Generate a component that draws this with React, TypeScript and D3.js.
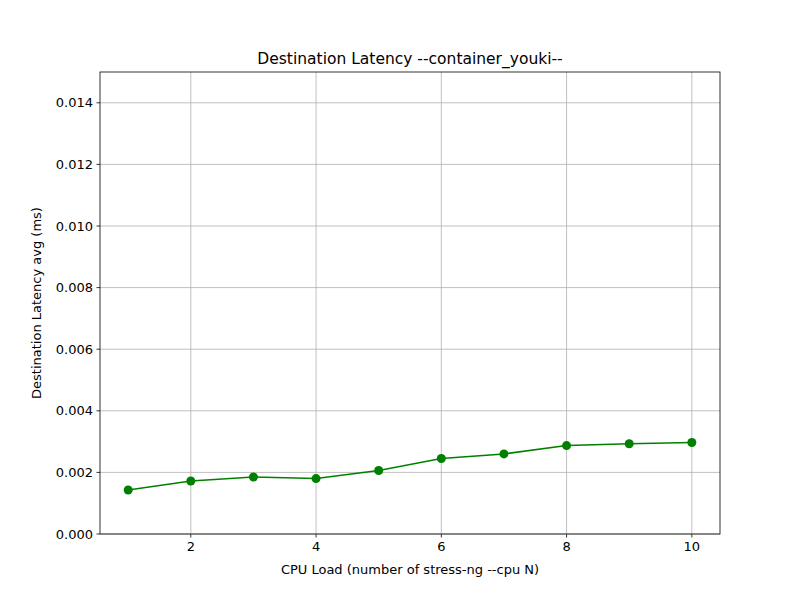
import React from 'react';
import * as d3 from 'd3';

const cpuLoad = [1, 2, 3, 4, 5, 6, 7, 8, 9, 10];
const latency = [0.00143, 0.00172, 0.00185, 0.0018, 0.00206, 0.00245, 0.0026, 0.00287, 0.00293, 0.00297];
const xTicks = [2, 4, 6, 8, 10];
const yTicks = [0, 0.002, 0.004, 0.006, 0.008, 0.01, 0.012, 0.014];

const W = 800, H = 600;
const M = { left: 100, right: 720, top: 72, bottom: 534 };

const App: React.FC = () => {
  const x = d3.scaleLinear().domain([0.55, 10.45]).range([M.left, M.right]);
  const y = d3.scaleLinear().domain([0, 0.015]).range([M.bottom, M.top]);
  const line = d3.line<number>().x((_, i) => x(cpuLoad[i])).y(d => y(d));
  const font = 'DejaVu Sans, sans-serif';

  return (
    <svg width={W} height={H} style={{ position: 'absolute', left: 0, top: 0 }} fontFamily={font}>
      <rect width={W} height={H} fill="#fff" />
      {xTicks.map(t => (
        <g key={'x' + t}>
          <line x1={x(t)} x2={x(t)} y1={M.top} y2={M.bottom} stroke="#b0b0b0" strokeWidth={0.8} />
          <line x1={x(t)} x2={x(t)} y1={M.bottom} y2={M.bottom + 3.5} stroke="#000" strokeWidth={0.8} />
          <text x={x(t)} y={M.bottom + 17} textAnchor="middle" fontSize={13}>{t}</text>
        </g>
      ))}
      {yTicks.map(t => (
        <g key={'y' + t}>
          <line x1={M.left} x2={M.right} y1={y(t)} y2={y(t)} stroke="#b0b0b0" strokeWidth={0.8} />
          <line x1={M.left - 3.5} x2={M.left} y1={y(t)} y2={y(t)} stroke="#000" strokeWidth={0.8} />
          <text x={M.left - 7} y={y(t) + 4.5} textAnchor="end" fontSize={13}>{t.toFixed(3)}</text>
        </g>
      ))}
      <path d={line(latency) ?? ''} fill="none" stroke="green" strokeWidth={1.5} />
      {latency.map((v, i) => (
        <circle key={i} cx={x(cpuLoad[i])} cy={y(v)} r={4.5} fill="green" />
      ))}
      <rect x={M.left} y={M.top} width={M.right - M.left} height={M.bottom - M.top} fill="none" stroke="#000" strokeWidth={0.8} />
      <text x={(M.left + M.right) / 2} y={M.top - 8} textAnchor="middle" fontSize={15.5}>Destination Latency --container_youki--</text>
      <text x={(M.left + M.right) / 2} y={574} textAnchor="middle" fontSize={13}>CPU Load (number of stress-ng --cpu N)</text>
      <text transform={`translate(41,${(M.top + M.bottom) / 2}) rotate(-90)`} textAnchor="middle" fontSize={13}>Destination Latency avg (ms)</text>
    </svg>
  );
};

export default App;
